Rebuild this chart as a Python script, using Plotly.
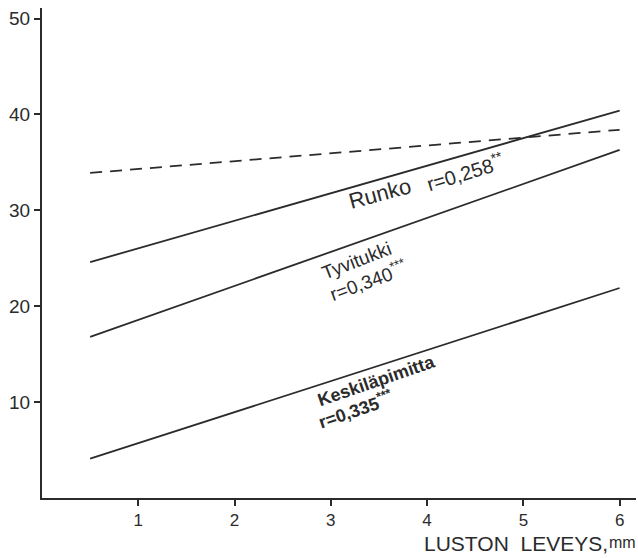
import plotly.graph_objects as go

# Ring width (mm) range over which the fitted lines are drawn
x_ends = [0.5, 6.0]

# Fitted line end values
runko = [24.6, 40.4]
tyvitukki = [16.8, 36.3]
keskilapimitta = [4.1, 21.9]
dashed = [33.9, 38.4]

x_ticks = [1, 2, 3, 4, 5, 6]
y_ticks = [10, 20, 30, 40, 50]

ink = "#2b2b2b"
font = "Liberation Sans"

fig = go.Figure()
for ys in (runko, tyvitukki, keskilapimitta):
    fig.add_trace(go.Scatter(x=x_ends, y=ys, mode="lines",
                             line=dict(color=ink, width=1.8), showlegend=False))
fig.add_trace(go.Scatter(x=x_ends, y=dashed, mode="lines",
                         line=dict(color=ink, width=1.8, dash="12px,8px"), showlegend=False))

# (text, x, y, angle, size)
labels = [
    ("Runko", 3.51, 31.8, -15, 22),
    ("r=0,258<sup>**</sup>", 4.39, 34.1, -17, 20),
    ("Tyvitukki", 3.27, 24.8, -21, 19),
    ("r=0,340<sup>***</sup>", 3.39, 22.7, -20, 19),
    ("<b>Keskiläpimitta</b>", 3.47, 12.2, -19, 18),
    ("<b>r=0,335</b><sup><b>***</b></sup>", 3.26, 9.2, -19, 18),
]
for text, x, y, ang, size in labels:
    fig.add_annotation(x=x, y=y, xref="x", yref="y", text=text, showarrow=False,
                       textangle=ang, font=dict(family=font, size=size, color=ink))

# Axis title: main words plus a smaller, slightly raised unit
fig.add_annotation(x=1.0, y=0, xref="paper", yref="paper", xanchor="right", yanchor="top",
                   xshift=-26, yshift=-32, showarrow=False,
                   text="LUSTON  LEVEYS,",
                   font=dict(family=font, size=21, color=ink))
fig.add_annotation(x=1.0, y=0, xref="paper", yref="paper", xanchor="right", yanchor="top",
                   xshift=2, yshift=-34, showarrow=False,
                   text="mm",
                   font=dict(family=font, size=16, color=ink))

fig.update_xaxes(range=[0, 6.17], tickvals=x_ticks, ticks="outside", ticklen=6,
                 tickcolor=ink, tickwidth=1.5, showline=True, linecolor=ink, linewidth=2,
                 showgrid=False, zeroline=False,
                 tickfont=dict(family=font, size=17, color=ink))
fig.update_yaxes(range=[0, 51.1], tickvals=y_ticks, ticks="outside", ticklen=6,
                 tickcolor=ink, tickwidth=1.5, showline=True, linecolor=ink, linewidth=2,
                 showgrid=False, zeroline=False,
                 tickfont=dict(family=font, size=19, color=ink))

fig.update_layout(width=638, height=558, margin=dict(l=42, r=2, t=8, b=60),
                  plot_bgcolor="white", paper_bgcolor="white")

fig.write_html("out.html")
